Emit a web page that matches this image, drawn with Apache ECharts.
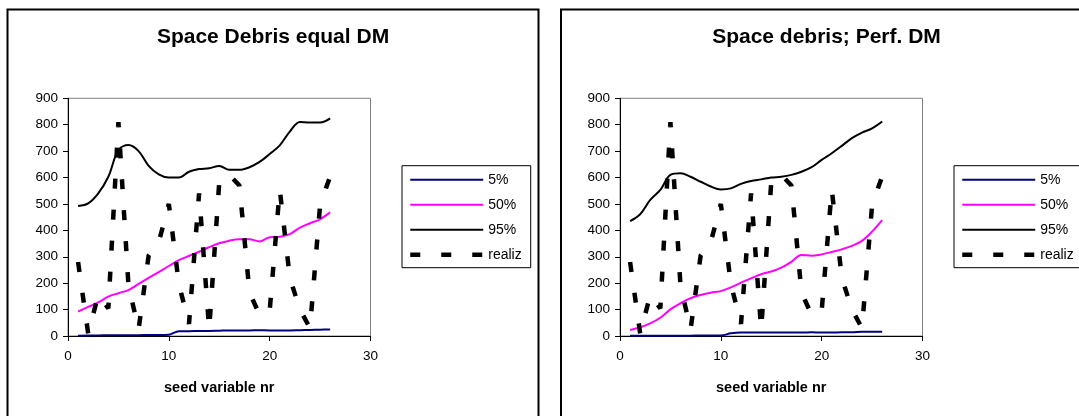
<!DOCTYPE html>
<html>
<head>
<meta charset="utf-8">
<script src="https://cdn.jsdelivr.net/npm/echarts@6/dist/echarts.min.js"></script>
<style>
html,body{margin:0;padding:0;background:#fff;overflow:hidden;}
#c{position:absolute;left:0;top:0;width:1079px;height:416px;}
</style>
</head>
<body>
<div id="c"></div>
<script>
// ---- data ----
const titles = ['Space Debris equal DM', 'Space debris; Perf. DM'];
const xAxisName = 'seed variable nr';
const seriesNames = ['5%', '50%', '95%', 'realiz'];
const seeds = [1,2,3,4,5,6,7,8,9,10,11,12,13,14,15,16,17,18,19,20,21,22,23,24,25,26];
const realiz = [280,10,155,105,810,190,25,305,355,500,196,46,540,25,582,610,570,165,80,95,555,220,100,30,495,605];
const left5  = [1,2,2,3,3,3,3,4,4,5,18,18,19,19,20,21,21,21,22,21,21,21,22,23,24,25];
const left50 = [92,110,127,149,162,174,197,220,242,265,287,303,319,336,351,361,366,366,358,374,376,386,410,427,442,468];
const left95 = [492,502,540,603,704,723,700,644,612,600,600,622,632,635,644,629,629,639,659,689,722,774,810,808,808,824];
const right5  = [1,1,1,1,1,1,1,2,2,2,10,13,13,13,13,13,13,13,14,13,13,14,14,16,16,16];
const right50 = [23,33,48,69,101,124,143,155,164,170,184,202,218,234,244,259,281,307,304,309,318,328,341,360,395,439];
const right95 = [435,461,515,553,610,616,603,584,566,555,559,576,587,593,600,603,610,622,639,667,692,720,749,770,786,812];
const yTicks = {min: 0, max: 900, interval: 100};
const xTicks = {min: 0, max: 30, interval: 10};

// ---- build ----
const FONT = '"Liberation Sans", Arial, sans-serif';
const pair = arr => seeds.map((s, i) => [s, arr[i]]);
const panels = [
  {box: 7.5, grid: 68, legend: 402, data: [left5, left50, left95, realiz]},
  {box: 561, grid: 620, legend: 954, data: [right5, right50, right95, realiz]}
];
const styles = [
  {color: '#000080', width: 2, type: 'solid', smooth: 0.35},
  {color: '#ff00ff', width: 2, type: 'solid', smooth: 0.35},
  {color: '#000000', width: 2, type: 'solid', smooth: 0.35},
  {color: '#000000', width: 4.5, type: [10, 21], smooth: false}
];
const grids = [], xAxes = [], yAxes = [], series = [], legends = [], graphics = [];
panels.forEach((p, k) => {
  grids.push({left: p.grid, top: 98.3, width: 302.5, height: 237.7, show: true,
    borderColor: '#808080', borderWidth: 1, backgroundColor: '#fff'});
  xAxes.push({type: 'value', gridIndex: k, min: xTicks.min, max: xTicks.max, interval: xTicks.interval,
    name: xAxisName, nameLocation: 'middle', nameGap: 44,
    nameTextStyle: {fontFamily: FONT, fontSize: 14.5, fontWeight: 'bold', color: '#000'},
    axisLine: {show: true, onZero: false, lineStyle: {color: '#000', width: 1}},
    axisTick: {show: true, length: 5, lineStyle: {color: '#000'}},
    axisLabel: {fontFamily: FONT, fontSize: 13.5, color: '#000', margin: 13},
    splitLine: {show: false}});
  yAxes.push({type: 'value', gridIndex: k, min: yTicks.min, max: yTicks.max, interval: yTicks.interval,
    axisLine: {show: true, lineStyle: {color: '#000', width: 1}},
    axisTick: {show: true, length: 5, lineStyle: {color: '#000'}},
    axisLabel: {fontFamily: FONT, fontSize: 13.5, color: '#000', margin: 10},
    splitLine: {show: false}});
  p.data.forEach((arr, j) => {
    const s = styles[j];
    series.push({type: 'line', name: seriesNames[j], xAxisIndex: k, yAxisIndex: k,
      data: pair(arr), symbol: 'none', smooth: s.smooth, z: j === 3 ? 3 : 2,
      lineStyle: {color: s.color, width: s.width, type: s.type, cap: 'butt'},
      itemStyle: {color: s.color}, emphasis: {disabled: true}, animation: false});
  });
  legends.push({orient: 'vertical', left: p.legend, top: 165.7,
    data: seriesNames.map((n, j) => ({name: n,
      lineStyle: {color: styles[j].color, width: styles[j].width, type: styles[j].type},
      itemStyle: {color: 'rgba(0,0,0,0)', borderWidth: 0, opacity: 0}})),
    itemWidth: 73, itemHeight: 14, itemGap: 11, padding: [7, 9, 6, 6],
    borderColor: '#000', borderWidth: 1, backgroundColor: '#fff', borderRadius: 0,
    selectedMode: false,
    itemStyle: {opacity: 0, borderWidth: 0},
    textStyle: {fontFamily: FONT, fontSize: 14, color: '#000'}});
  graphics.push({type: 'rect', z: -10, silent: true,
    shape: {x: p.box, y: 9.5, width: 531, height: 430},
    style: {fill: 'none', stroke: '#000', lineWidth: 2}});
  graphics.push({type: 'text', silent: true,
    style: {text: titles[k], x: p.box + 265.5, y: 37, textAlign: 'center', textVerticalAlign: 'middle',
      font: 'bold 21px ' + FONT, fill: '#000'}});
});

const chart = echarts.init(document.getElementById('c'), null, {renderer: 'canvas'});
chart.setOption({
  animation: false,
  backgroundColor: '#fff',
  grid: grids, xAxis: xAxes, yAxis: yAxes, series: series, legend: legends, graphic: graphics
});
</script>
</body>
</html>
